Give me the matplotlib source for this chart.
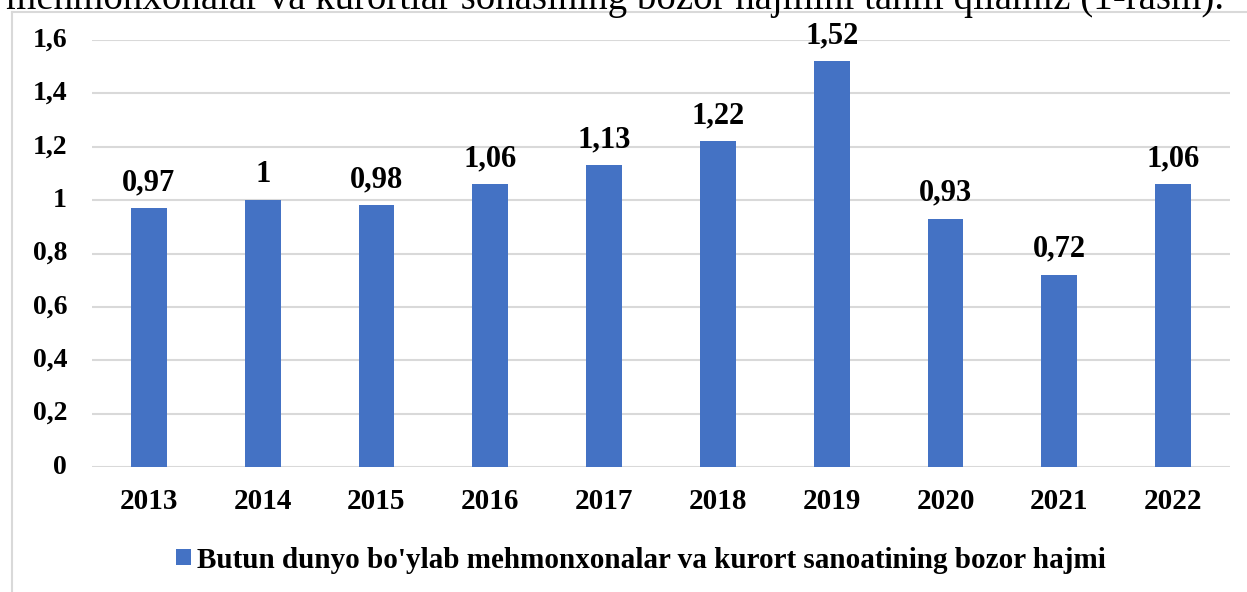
import matplotlib
matplotlib.use("Agg")
import matplotlib.pyplot as plt
from matplotlib.lines import Line2D

years  = ["2013", "2014", "2015", "2016", "2017", "2018", "2019", "2020", "2021", "2022"]
values = [0.97, 1.00, 0.98, 1.06, 1.13, 1.22, 1.52, 0.93, 0.72, 1.06]
yticks = [0, 0.2, 0.4, 0.6, 0.8, 1.0, 1.2, 1.4, 1.6]
series_name = "Butun dunyo bo'ylab mehmonxonalar va kurort sanoatining bozor hajmi"
top_text = "mehmonxonalar va kurortlar sohasining bozor hajmini tahlil qilamiz (1-rasm)."

BLUE = "#4472c4"
GRID = "#d9d9d9"


def fmt(v):
    s = f"{v:.2f}".rstrip("0").rstrip(".")
    return s.replace(".", ",")


plt.rcParams["font.family"] = ["Liberation Serif", "DejaVu Serif"]

fig = plt.figure(figsize=(12.47, 5.92), dpi=100)
W, H = 1247, 592

# page text cut off at the top of the crop
fig.text(6 / W, 1 - 9 / H, top_text, fontsize=28, ha="left", va="baseline")

# chart area frame (only top and left edges fall inside the crop)
fig.add_artist(Line2D([12 / W, 12 / W], [0, 1 - 12 / H], color=GRID, lw=1.5,
                      transform=fig.transFigure))
fig.add_artist(Line2D([12 / W, 1], [1 - 12 / H, 1 - 12 / H], color=GRID, lw=1.5,
                      transform=fig.transFigure))

ax = fig.add_axes([92 / W, 1 - 467 / H, (1230 - 92) / W, (467 - 40) / H])
x = range(len(years))
bars = ax.bar(x, values, width=0.315, color=BLUE, zorder=3, label=series_name)

ax.set_xlim(-0.5, len(years) - 0.5)
ax.set_ylim(0, 1.6)
ax.set_yticks(yticks)
ax.set_yticklabels([fmt(t) for t in yticks], fontsize=20, fontweight="bold",
                   va="top")
ax.set_xticks(list(x))
ax.set_xticklabels(years, fontsize=21, fontweight="bold")
ax.tick_params(axis="both", length=0)
ax.tick_params(axis="y", pad=18)
ax.tick_params(axis="x", pad=15)
# Excel-style labels sit a touch below their gridline
for lbl in ax.get_yticklabels():
    lbl.set_verticalalignment("center")
ax.grid(axis="y", color=GRID, lw=1.5, zorder=0)
for s in ax.spines.values():
    s.set_visible(False)

for b, v in zip(bars, values):
    ax.annotate(fmt(v), (b.get_x() + b.get_width() / 2, v),
                xytext=(0, 8), textcoords="offset points",
                ha="center", va="bottom", fontsize=22, fontweight="bold")

fig.legend(loc="center", bbox_to_anchor=(641 / W, 1 - 560 / H), frameon=False,
           prop={"size": 21, "weight": "bold"}, handlelength=0.5,
           handleheight=0.5, handletextpad=0.2)

fig.savefig("out.png", dpi=100)
